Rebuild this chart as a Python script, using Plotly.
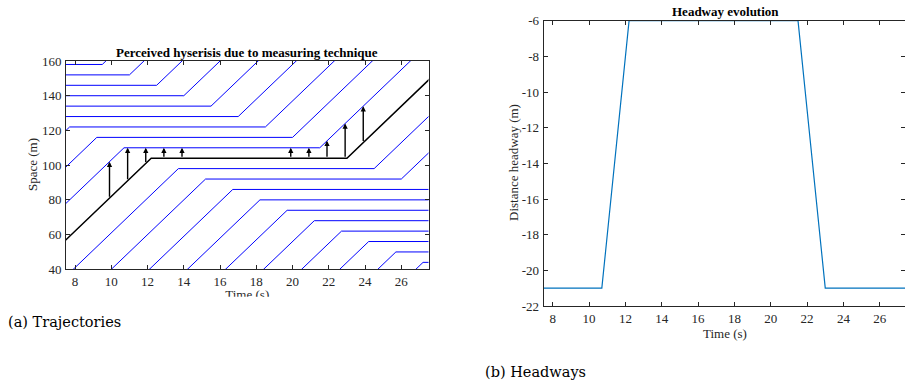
import plotly.graph_objects as go

# ---------------- data ----------------
# Left panel: vehicle trajectories (stop position, time reaching stop, time leaving stop)
stop_pos = [158, 152, 146, 140, 134, 128, 122, 116, 110, 104,
            98, 92, 86, 80, 74, 68, 62, 56, 50, 44]
t_arrive = [None, None, None, None, None, None, 7.7, 9.2, 10.7, 12.2,
            13.7, 15.2, 16.7, 18.2, 19.7, 21.2, 22.7, 24.2, 25.7, 27.2]
t_depart = [9.5, 11.0, 12.5, 14.0, 15.5, 17.0, 18.5, 20.0, 21.5, 23.0,
            24.5, 26.0, None, None, None, None, None, None, None, None]
speed = 10.0            # m/s, free-flow speed
ego_index = 9           # black trajectory (stops at 104 m)
leader_index = 8        # vehicle ahead of it (stops at 110 m)
arrow_times = [9.9, 10.9, 11.9, 12.9, 13.9, 19.9, 20.9, 21.9, 22.9, 23.9]

# Right panel: headway evolution
hw_time = [7.5, 10.7, 12.2, 21.5, 23.0, 27.5]
hw_value = [-21, -21, -6, -6, -21, -21]

x_ticks = [8, 10, 12, 14, 16, 18, 20, 22, 24, 26]
left_y_ticks = [40, 60, 80, 100, 120, 140, 160]
right_y_ticks = [-22, -20, -18, -16, -14, -12, -10, -8, -6]

# ---------------- helpers ----------------
W, H = 905, 383
FONT = "Liberation Serif"
CAPFONT = "DejaVu Serif"
AX = "#262626"


def px_x(p):
    return p / W


def px_y(p):
    return 1 - p / H


def trajectory(i):
    xs, ys = [], []
    s = stop_pos[i]
    if t_arrive[i] is not None:
        xs += [t_arrive[i] - 30, t_arrive[i]]
        ys += [s - speed * 30, s]
    else:
        xs.append(0)
        ys.append(s)
    if t_depart[i] is not None:
        xs += [t_depart[i], t_depart[i] + 30]
        ys += [s, s + speed * 30]
    else:
        xs.append(40)
        ys.append(s)
    return xs, ys


def position(i, t):
    s = stop_pos[i]
    if t_arrive[i] is not None and t < t_arrive[i]:
        return s - speed * (t_arrive[i] - t)
    if t_depart[i] is not None and t > t_depart[i]:
        return s + speed * (t - t_depart[i])
    return s


fig = go.Figure()

for i in range(len(stop_pos)):
    if i == ego_index:
        continue
    xs, ys = trajectory(i)
    fig.add_trace(go.Scatter(x=xs, y=ys, mode="lines",
                             line=dict(color="#0000FF", width=1),
                             xaxis="x", yaxis="y", showlegend=False,
                             hoverinfo="skip"))
xs, ys = trajectory(ego_index)
fig.add_trace(go.Scatter(x=xs, y=ys, mode="lines",
                         line=dict(color="#000000", width=1.5),
                         xaxis="x", yaxis="y", showlegend=False,
                         hoverinfo="skip"))

annotations = []
for t in arrow_times:
    annotations.append(dict(
        x=t, y=position(leader_index, t), ax=t, ay=position(ego_index, t),
        xref="x", yref="y", axref="x", ayref="y", text="",
        showarrow=True, arrowhead=2, arrowsize=0.75, arrowwidth=1.4,
        arrowcolor="#000000", standoff=0, startstandoff=0))

# right panel headway
fig.add_trace(go.Scatter(x=hw_time, y=hw_value, mode="lines",
                         line=dict(color="#0072BD", width=1.2),
                         xaxis="x2", yaxis="y2", showlegend=False,
                         hoverinfo="skip"))

# clipped left x-axis title (only the top part is visible in the original)
fig.add_trace(go.Scatter(x=[0.5], y=[0.06], mode="text", text=["Time (s)"],
                         textposition="middle center", cliponaxis=True,
                         textfont=dict(family=FONT, size=13, color=AX),
                         xaxis="x3", yaxis="y3", showlegend=False,
                         hoverinfo="skip"))

axis_common = dict(showline=True, linecolor=AX, linewidth=1, mirror="ticks",
                   ticks="inside", ticklen=4, tickcolor=AX, showgrid=False,
                   zeroline=False, automargin=False,
                   tickfont=dict(family=FONT, size=13, color=AX))

fig.update_layout(
    template="none",
    width=W, height=H, margin=dict(l=0, r=0, t=0, b=0, pad=0),
    paper_bgcolor="white", plot_bgcolor="white",
    xaxis=dict(domain=[px_x(66), px_x(428.5)], range=[7.5, 27.5],
               tickvals=x_ticks, ticktext=[str(v) for v in x_ticks],
               ticklabelstandoff=0, anchor="y", **axis_common),
    yaxis=dict(domain=[px_y(269.3), px_y(61)], range=[40, 160],
               tickvals=left_y_ticks, ticktext=[str(v) for v in left_y_ticks],
               ticklabelstandoff=1, anchor="x", **axis_common),
    xaxis2=dict(domain=[px_x(543.7), 1.0], range=[7.5, 27.39],
                tickvals=x_ticks, ticktext=[str(v) for v in x_ticks],
                ticklabelstandoff=0, anchor="y2", **axis_common),
    yaxis2=dict(domain=[px_y(306), px_y(20.7)], range=[-22, -6],
                tickvals=right_y_ticks,
                ticktext=[str(v) for v in right_y_ticks],
                ticklabelstandoff=1, anchor="x2", **axis_common),
    xaxis3=dict(domain=[px_x(66), px_x(428.5)], range=[0, 1], visible=False,
                anchor="y3", automargin=False),
    yaxis3=dict(domain=[px_y(296.7), px_y(283)], range=[0, 1], visible=False,
                anchor="x3", automargin=False),
)

annotations += [
    dict(text="<b>Perceived hyserisis due to measuring technique</b>",
         x=px_x(247), y=px_y(52), xref="paper", yref="paper",
         showarrow=False, font=dict(family=FONT, size=13, color="#000000"),
         xanchor="center", yanchor="middle"),
    dict(text="Space (m)", x=px_x(32), y=px_y(165), xref="paper", yref="paper",
         showarrow=False, textangle=-90,
         font=dict(family=FONT, size=13, color=AX),
         xanchor="center", yanchor="middle"),
    dict(text="<b>Headway evolution</b>", x=px_x(725), y=px_y(11),
         xref="paper", yref="paper", showarrow=False,
         font=dict(family=FONT, size=13, color="#000000"),
         xanchor="center", yanchor="middle"),
    dict(text="Distance headway (m)", x=px_x(513), y=px_y(163),
         xref="paper", yref="paper", showarrow=False, textangle=-90,
         font=dict(family=FONT, size=13, color=AX),
         xanchor="center", yanchor="middle"),
    dict(text="Time (s)", x=px_x(725), y=px_y(333), xref="paper",
         yref="paper", showarrow=False,
         font=dict(family=FONT, size=13, color=AX),
         xanchor="center", yanchor="middle"),
    dict(text="(a) Trajectories", x=px_x(6), y=px_y(322), xref="paper",
         yref="paper", showarrow=False,
         font=dict(family=CAPFONT, size=14.5, color="#000000"),
         xanchor="left", yanchor="middle"),
    dict(text="(b) Headways", x=px_x(483), y=px_y(372), xref="paper",
         yref="paper", showarrow=False,
         font=dict(family=CAPFONT, size=14.5, color="#000000"),
         xanchor="left", yanchor="middle"),
]
fig.update_layout(annotations=annotations)

fig.write_html("out.html")
